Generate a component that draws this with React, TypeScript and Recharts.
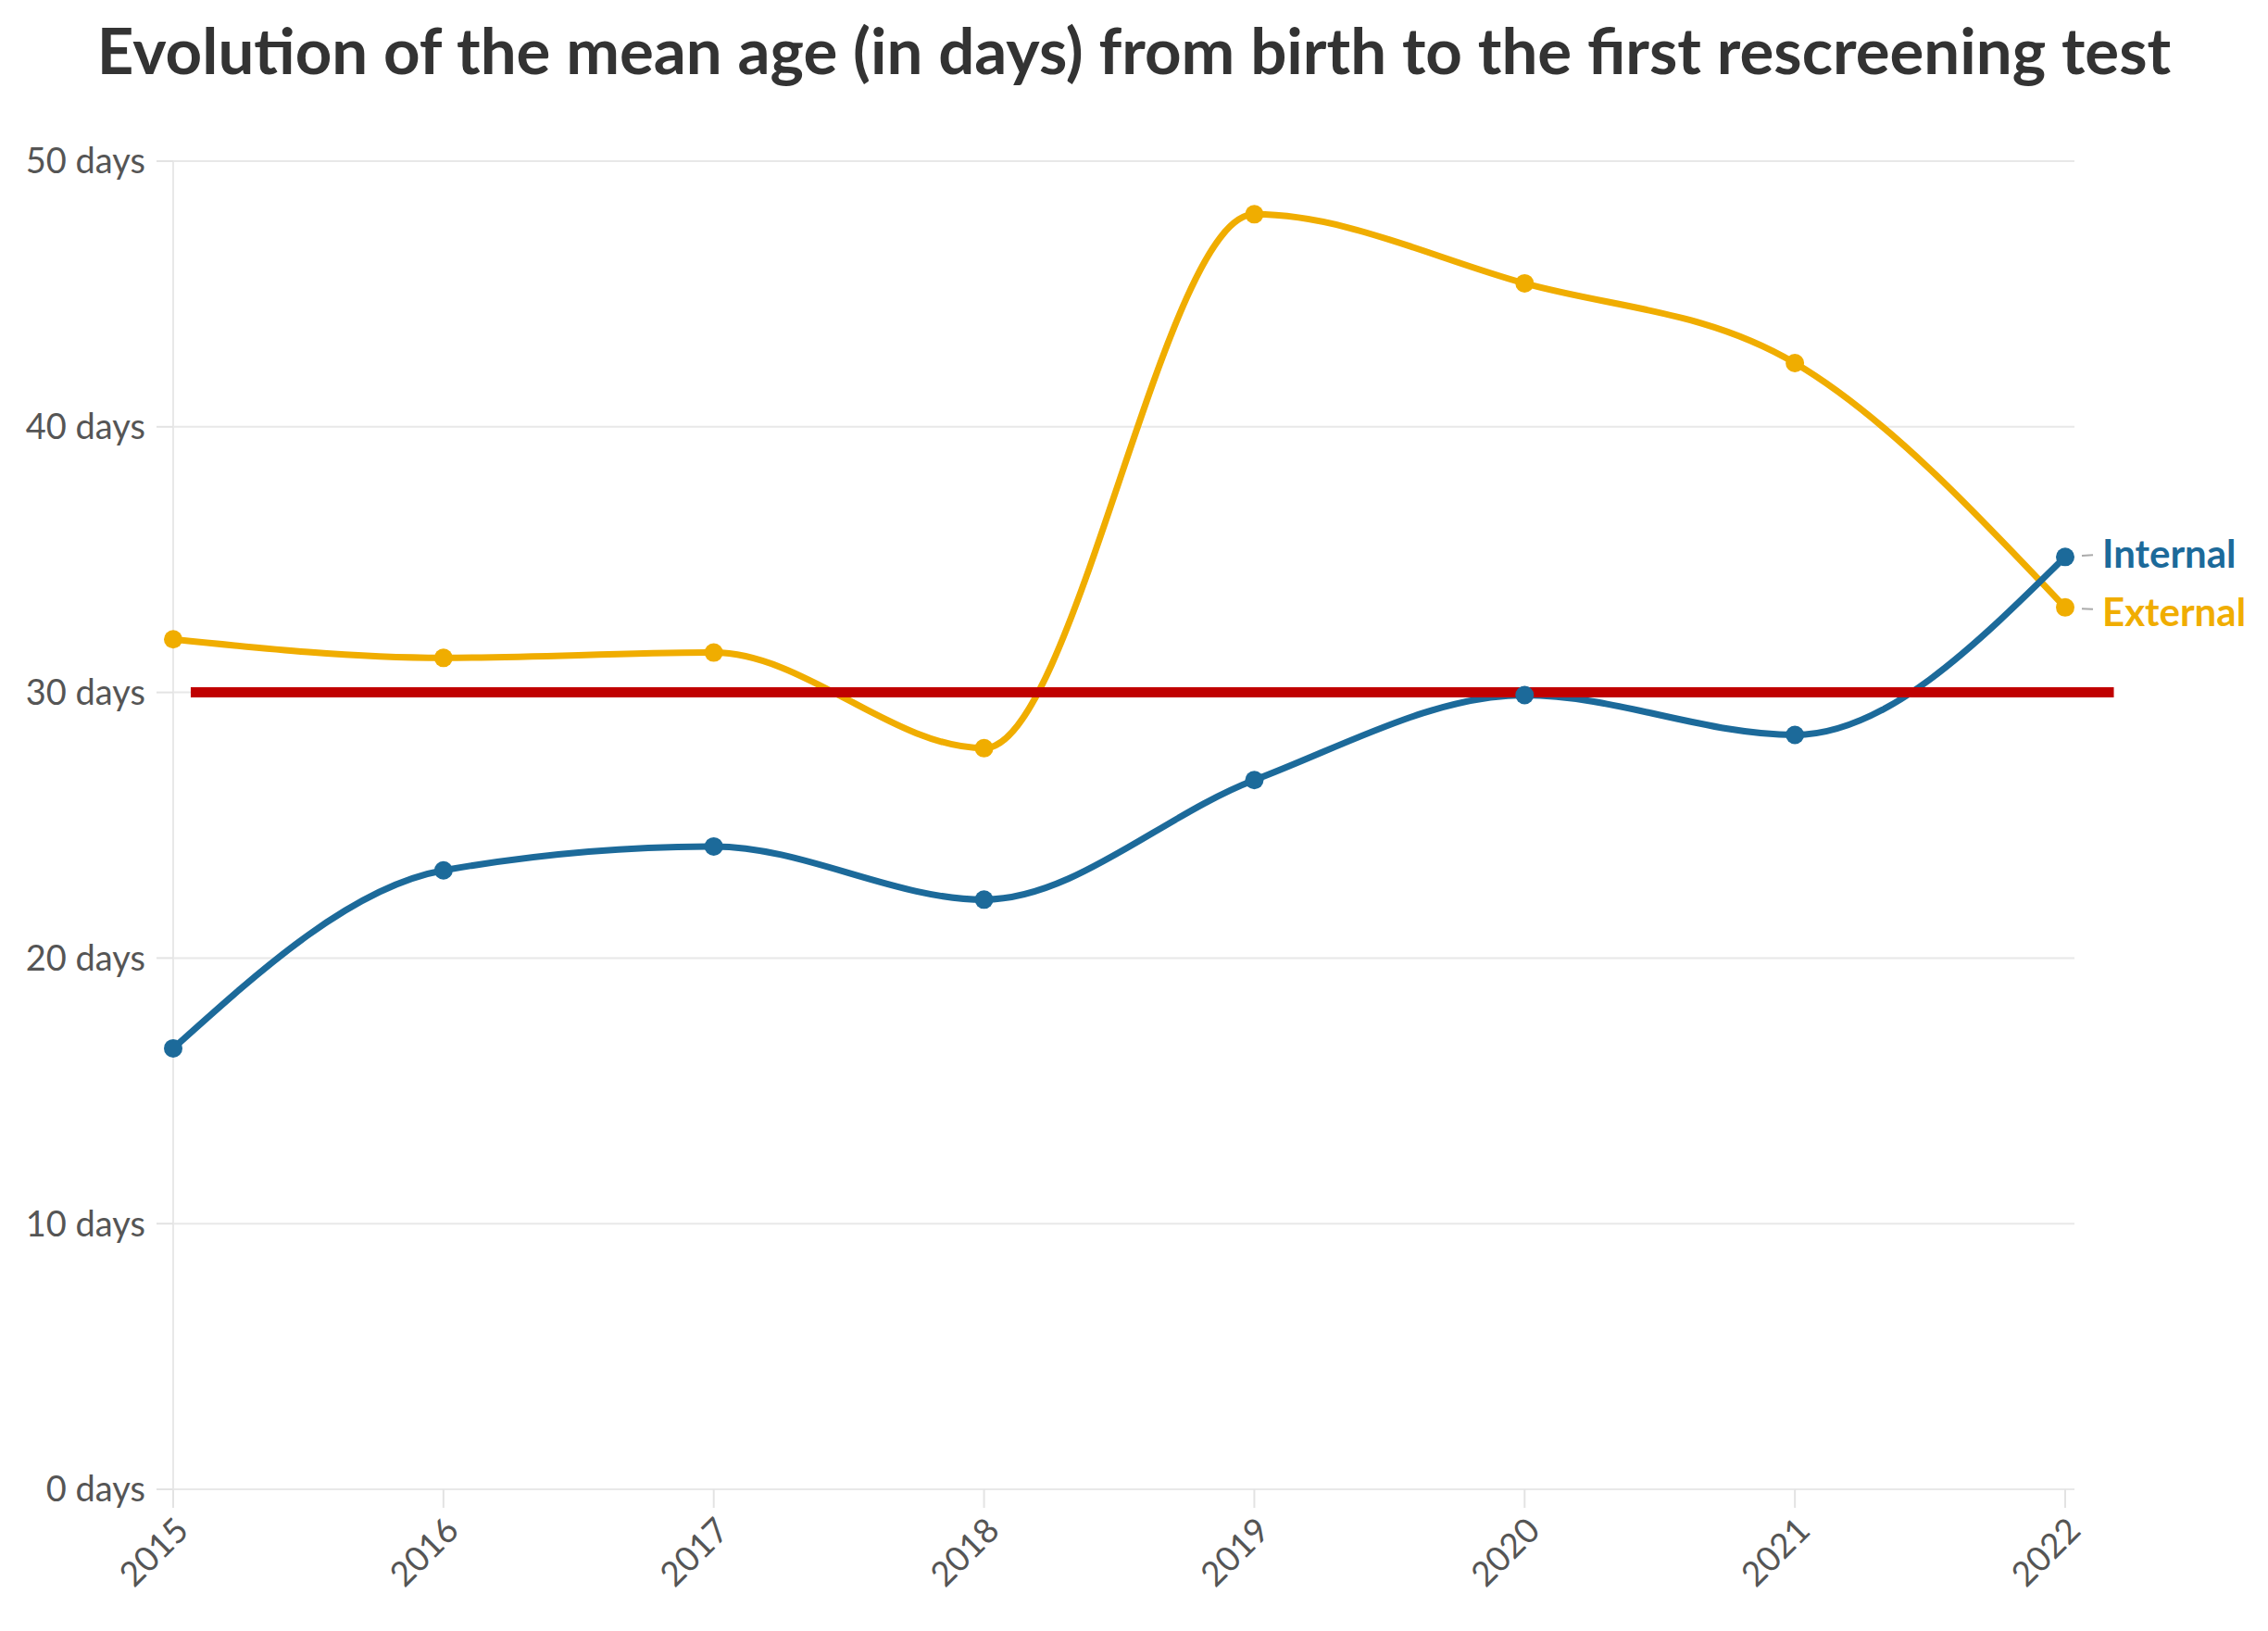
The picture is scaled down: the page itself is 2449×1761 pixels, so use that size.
import { CartesianGrid, LabelList, Line, LineChart, ReferenceLine, XAxis, YAxis } from "recharts";

const years = [2015, 2016, 2017, 2018, 2019, 2020, 2021, 2022];
const internalDays = [16.6, 23.3, 24.2, 22.2, 26.7, 29.9, 28.4, 35.1];
const externalDays = [32.0, 31.3, 31.5, 27.9, 48.0, 45.4, 42.4, 33.2];
const yTicks = [0, 10, 20, 30, 40, 50];
const targetDays = 30;

const BLUE = "#1c6a9a";
const ORANGE = "#f0ad00";
const RED = "#c00000";
const FONT = "Lato, 'Noto Sans', sans-serif";

const data = years.map((year, i) => ({
	year,
	internal: internalDays[i],
	external: externalDays[i],
}));

function endLabel(text: string, color: string, dy: number) {
	return (props: any) => {
		const { x, y, index } = props;
		if (index !== years.length - 1) return null;
		return (
			<g>
				<line x1={x + 18} y1={y + dy / 3} x2={x + 30} y2={y + dy / 2} stroke="#aaa" strokeWidth={2} />
				<text
					x={x + 40}
					y={y + dy}
					fill={color}
					fontFamily={FONT}
					fontWeight={700}
					fontSize={42}
					dominantBaseline="central"
				>
					{text}
				</text>
			</g>
		);
	};
}

export default function App() {
	return (
		<div style={{ position: "absolute", left: 0, top: 0, width: 2449, height: 1761, background: "#fff" }}>
			<div
				style={{
					position: "absolute",
					left: 0,
					top: 12,
					width: 2449,
					textAlign: "center",
					fontFamily: FONT,
					fontWeight: 700,
					fontSize: 69,
					color: "#333",
				}}
			>
				Evolution of the mean age (in days) from birth to the first rescreening test
			</div>
			<LineChart
				width={2449}
				height={1761}
				data={data}
				margin={{ top: 174, right: 209, left: 0, bottom: 0 }}
				style={{ position: "absolute", left: 0, top: 0 }}
			>
				<CartesianGrid vertical={false} stroke="#e8e8e8" strokeWidth={2} />
				<XAxis
					dataKey="year"
					type="number"
					domain={[2015, 2022]}
					ticks={years}
					padding={{ left: 0, right: 10 }}
					height={153}
					axisLine={false}
					tickLine={{ stroke: "#e3e3e3", strokeWidth: 2 }}
					tickSize={20}
					angle={-45}
					textAnchor="end"
					tick={{ fill: "#555", fontFamily: FONT, fontSize: 37, dy: 6 }}
				/>
				<YAxis
					domain={[0, 50]}
					ticks={yTicks}
					width={187}
					axisLine={{ stroke: "#e8e8e8", strokeWidth: 2 }}
					tickLine={{ stroke: "#e3e3e3", strokeWidth: 2 }}
					tickSize={18}
					tickFormatter={(v: number) => `${v} days`}
					tick={{ fill: "#555", fontFamily: FONT, fontSize: 38, dx: -10 }}
				/>
				<Line
					type="monotone"
					dataKey="external"
					stroke={ORANGE}
					strokeWidth={7}
					dot={{ r: 10, fill: ORANGE, stroke: "none" }}
					activeDot={false}
					isAnimationActive={false}
				>
					<LabelList dataKey="external" content={endLabel("External", ORANGE, 4)} />
				</Line>
				<Line
					type="monotone"
					dataKey="internal"
					stroke={BLUE}
					strokeWidth={7}
					dot={{ r: 10, fill: BLUE, stroke: "none" }}
					activeDot={false}
					isAnimationActive={false}
				>
					<LabelList dataKey="internal" content={endLabel("Internal", BLUE, -4)} />
				</Line>
				<ReferenceLine
					segment={[
						{ x: 2015.065, y: targetDays },
						{ x: 2022.18, y: targetDays },
					]}
					stroke={RED}
					strokeWidth={11}
					ifOverflow="visible"
				/>
			</LineChart>
		</div>
	);
}
